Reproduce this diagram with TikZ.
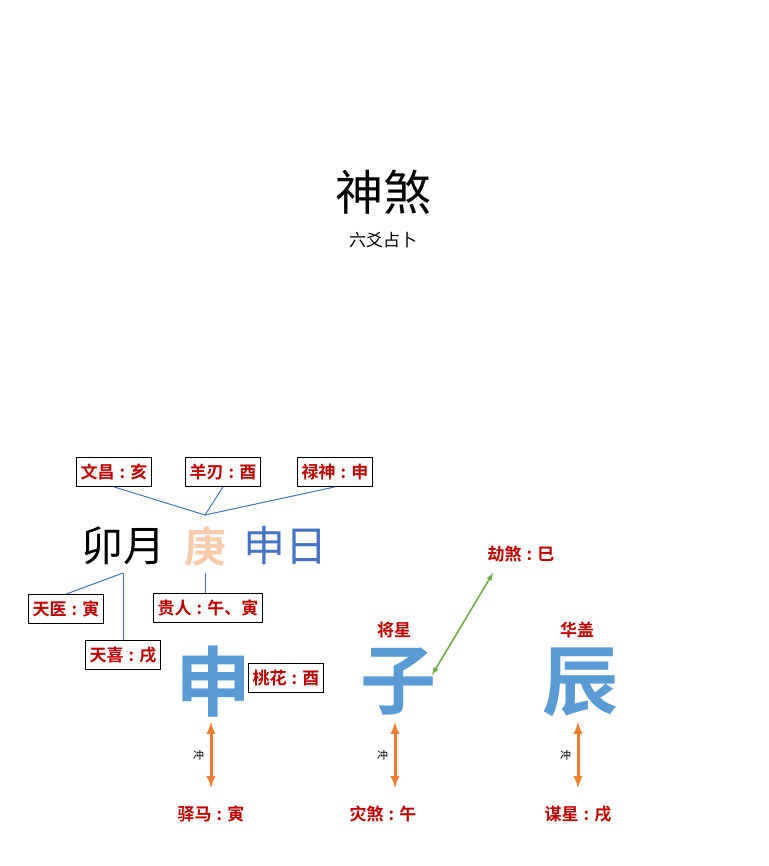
\documentclass[tikz,border=0pt]{standalone}
\usepackage{fontspec}
\setmainfont{Noto Sans CJK SC}
\newfontfamily\cjkb{Noto Sans CJK SC Bold}
\definecolor{labelred}{HTML}{C00000}
\definecolor{bigblue}{HTML}{5B9BD5}
\definecolor{dayblue}{HTML}{4472C4}
\definecolor{peach}{HTML}{F8CBAD}
\definecolor{chong}{HTML}{ED7D31}
\definecolor{jie}{HTML}{70AD47}
\newcommand{\sep}{\hspace{0.3em}:\hspace{0.3em}}
\begin{document}
\begin{tikzpicture}[x=1pt, y=-1pt,
	box/.style={draw, line width=0.8pt, fill=white, inner sep=4pt, minimum height=29pt, text=labelred, font=\cjkb\fontsize{17}{17}\selectfont},
	tag/.style={text=labelred, font=\cjkb\fontsize{17}{17}\selectfont},
	big/.style={text=bigblue, font=\cjkb\fontsize{76}{76}\selectfont},
	link/.style={dayblue, line width=1pt},
	chongarrow/.style={<->, >=latex, chong, line width=3pt}]
	\useasboundingbox (0,0) rectangle (768,866);
	\node (title) at (383,192) {\fontsize{48}{48}\selectfont 神煞};
	\node (sub) at (383,240) {\fontsize{17}{17}\selectfont 六爻占卜};
	% pillars
	\node (month) at (123,546) {\fontsize{42}{42}\selectfont 卯月};
	\node[text=peach] (geng) at (205,546) {\cjkb\fontsize{42}{42}\selectfont 庚};
	\node[text=dayblue] (day) at (285,546) {\fontsize{42}{42}\selectfont 申日};
	\node[box] (wenchang) at (114,472) {文昌\sep 亥};
	\node[box] (yangren) at (223,472) {羊刃\sep 酉};
	\node[box] (lushen) at (335,472) {禄神\sep 申};
	\node[box] (guiren) at (208,608) {贵人\sep 午、寅};
	\node[box] (tianyi) at (66,609) {天医\sep 寅};
	\node[box] (tianxi) at (123,655) {天喜\sep 戌};
	\coordinate (gtop) at (205,515);
	\coordinate (gbot) at (205,573);
	\coordinate (mbot) at (123,573);
	\draw[link] (wenchang.south) -- (gtop);
	\draw[link] (yangren.south) -- (gtop);
	\draw[link] (lushen.south) -- (gtop);
	\draw[link] (gbot) -- (guiren.north -| gbot);
	\draw[link] (mbot) -- (tianyi.north);
	\draw[link] (mbot) -- (tianxi.north);
	% branches
	\node[big] (shen) at (213,682) {申};
	\node[box] (taohua) at (286,678) {桃花\sep 酉};
	\node[big] (zi) at (398,682) {子};
	\node[tag] (jiangxing) at (394,630) {将星};
	\node[big] (chen) at (580,682) {辰};
	\node[tag] (huagai) at (577,630) {华盖};
	\node[tag] (jiesha) at (521,554) {劫煞\sep 巳};
	\coordinate (jtip) at (493,573);
	\coordinate (zitip) at (432,675);
	\draw[<->, >=latex, jie, line width=1.6pt] (jtip) -- (zitip);
	\node[tag] (yima) at (211,814) {驿马\sep 寅};
	\node[tag] (zaisha) at (383,814) {灾煞\sep 午};
	\node[tag] (mouxing) at (578,814) {谋星\sep 戌};
	\foreach \x/\n in {211/a, 395/b, 578/c} {
		\coordinate (top\n) at (\x,722);
		\coordinate (bot\n) at (\x,788);
		\draw[chongarrow] (top\n) -- node[left, xshift=-2pt, text=black, font=\fontsize{11}{11}\selectfont]{冲} (bot\n);
	}
\end{tikzpicture}
\end{document}
